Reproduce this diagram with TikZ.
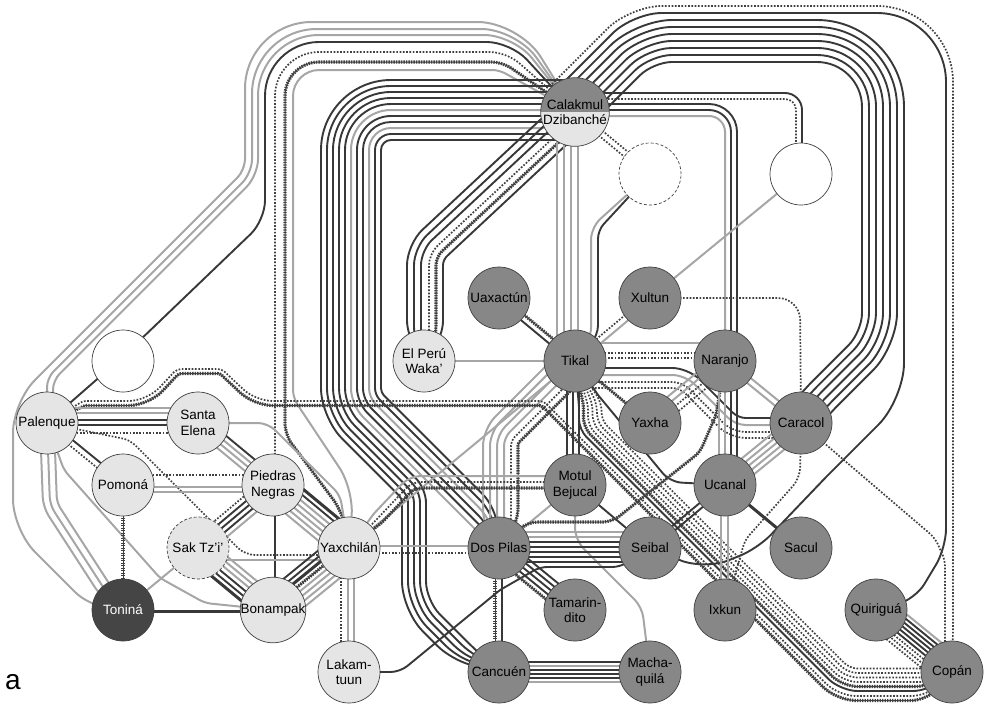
\documentclass[tikz,border=0pt]{standalone}
\usepackage{fontspec}
\setmainfont{Liberation Sans}
\makeatletter
\newif\ifbl@pa \newif\ifbl@pb
\def\blR{30}
\def\bl@offset#1{%
  \pgfmathtruncatemacro\bl@ip{#1-1}%
  \pgfmathtruncatemacro\bl@in{#1+1}%
  \edef\bl@cx{\csname bl@x#1\endcsname}%
  \edef\bl@cy{\csname bl@y#1\endcsname}%
  \ifnum#1>1\relax
    \edef\bl@ax{\csname bl@x\bl@ip\endcsname}%
    \edef\bl@ay{\csname bl@y\bl@ip\endcsname}%
    \pgfmathsetmacro\bl@la{100*veclen(((\bl@cx)-(\bl@ax))/100,((\bl@cy)-(\bl@ay))/100)}%
    \pgfmathsetmacro\bl@nax{-((\bl@cy)-(\bl@ay))/\bl@la}%
    \pgfmathsetmacro\bl@nay{((\bl@cx)-(\bl@ax))/\bl@la}%
  \fi
  \ifnum#1<\bl@n\relax
    \edef\bl@bx{\csname bl@x\bl@in\endcsname}%
    \edef\bl@by{\csname bl@y\bl@in\endcsname}%
    \pgfmathsetmacro\bl@lb{100*veclen(((\bl@bx)-(\bl@cx))/100,((\bl@by)-(\bl@cy))/100)}%
    \pgfmathsetmacro\bl@nbx{-((\bl@by)-(\bl@cy))/\bl@lb}%
    \pgfmathsetmacro\bl@nby{((\bl@bx)-(\bl@cx))/\bl@lb}%
  \fi
  \ifnum#1=1\relax \let\bl@nax\bl@nbx \let\bl@nay\bl@nby \fi
  \ifnum#1=\bl@n\relax \let\bl@nbx\bl@nax \let\bl@nby\bl@nay \fi
  \edef\bl@dd{\bl@d}%
  \ifnum#1=1\relax \ifbl@pa \def\bl@dd{0}\fi\fi
  \ifnum#1=\bl@n\relax \ifbl@pb \def\bl@dd{0}\fi\fi
  \pgfmathsetmacro\bl@den{1+(\bl@nax)*(\bl@nbx)+(\bl@nay)*(\bl@nby)}%
  \pgfmathsetmacro\bl@ox{\bl@cx+(\bl@dd)*((\bl@nax)+(\bl@nbx))/\bl@den}%
  \pgfmathsetmacro\bl@oy{\bl@cy+(\bl@dd)*((\bl@nay)+(\bl@nby))/\bl@den}%
  \expandafter\xdef\csname bl@ox#1\endcsname{\bl@ox}%
  \expandafter\xdef\csname bl@oy#1\endcsname{\bl@oy}%
}
\def\bl@corner#1{%
  \pgfmathtruncatemacro\bl@ip{#1-1}%
  \pgfmathtruncatemacro\bl@in{#1+1}%
  \edef\bl@ax{\csname bl@ox\bl@ip\endcsname}\edef\bl@ay{\csname bl@oy\bl@ip\endcsname}%
  \edef\bl@cx{\csname bl@ox#1\endcsname}\edef\bl@cy{\csname bl@oy#1\endcsname}%
  \edef\bl@bx{\csname bl@ox\bl@in\endcsname}\edef\bl@by{\csname bl@oy\bl@in\endcsname}%
  \pgfmathsetmacro\bl@la{100*veclen(((\bl@cx)-(\bl@ax))/100,((\bl@cy)-(\bl@ay))/100)}%
  \pgfmathsetmacro\bl@lb{100*veclen(((\bl@bx)-(\bl@cx))/100,((\bl@by)-(\bl@cy))/100)}%
  \pgfmathsetmacro\bl@ux{((\bl@cx)-(\bl@ax))/\bl@la}%
  \pgfmathsetmacro\bl@uy{((\bl@cy)-(\bl@ay))/\bl@la}%
  \pgfmathsetmacro\bl@vx{((\bl@bx)-(\bl@cx))/\bl@lb}%
  \pgfmathsetmacro\bl@vy{((\bl@by)-(\bl@cy))/\bl@lb}%
  \pgfmathsetmacro\bl@cs{(\bl@ux)*(\bl@vx)+(\bl@uy)*(\bl@vy)}%
  \pgfmathsetmacro\bl@cr{(\bl@ux)*(\bl@vy)-(\bl@uy)*(\bl@vx)}%
  \pgfmathsetmacro\bl@r{max(2,\blR-(2*((\bl@cr)>0)-1)*(\bl@d))}%
  \pgfmathsetmacro\bl@t{sqrt(max(0,1-(\bl@cs))/(1+(\bl@cs)))}%
  \pgfmathsetmacro\bl@L{min(\bl@r*\bl@t,0.45*min(\bl@la,\bl@lb))}%
  \pgfmathsetmacro\bl@Ax{(\bl@cx)-\bl@L*(\bl@ux)}%
  \pgfmathsetmacro\bl@Ay{(\bl@cy)-\bl@L*(\bl@uy)}%
  \pgfmathsetmacro\bl@Ex{(\bl@cx)+\bl@L*(\bl@vx)}%
  \pgfmathsetmacro\bl@Ey{(\bl@cy)+\bl@L*(\bl@vy)}%
  \pgfmathsetmacro\bl@Px{(\bl@Ax)+0.55*\bl@L*(\bl@ux)}%
  \pgfmathsetmacro\bl@Py{(\bl@Ay)+0.55*\bl@L*(\bl@uy)}%
  \pgfmathsetmacro\bl@Qx{(\bl@Ex)-0.55*\bl@L*(\bl@vx)}%
  \pgfmathsetmacro\bl@Qy{(\bl@Ey)-0.55*\bl@L*(\bl@vy)}%
  \xdef\bl@path{\bl@path -- (\bl@Ax,\bl@Ay) .. controls (\bl@Px,\bl@Py) and (\bl@Qx,\bl@Qy) .. (\bl@Ex,\bl@Ey)}%
}
\newcommand\bl[3]{%
  \def\bl@d{#2}%
  \gdef\bl@n{0}%
  \foreach \px/\py [count=\ii] in {#3}{%
    \expandafter\xdef\csname bl@x\ii\endcsname{\px}%
    \expandafter\xdef\csname bl@y\ii\endcsname{\py}%
    \xdef\bl@n{\ii}}%
  \foreach \ii in {1,...,\bl@n}{\bl@offset{\ii}}%
  \xdef\bl@path{(\csname bl@ox1\endcsname,\csname bl@oy1\endcsname)}%
  \foreach \ii in {2,...,\bl@n}{%
    \ifnum\ii=\bl@n\relax
      \xdef\bl@path{\bl@path -- (\csname bl@ox\ii\endcsname,\csname bl@oy\ii\endcsname)}%
    \else
      \bl@corner{\ii}%
    \fi}%
  \edef\bl@cmd{\noexpand\draw[#1] \bl@path;}\bl@cmd
}
\newcommand\bund[5]{%
  \def\blR{#1}%
  \ifnum#2=1 \bl@patrue\else\bl@pafalse\fi
  \ifnum#3=1 \bl@pbtrue\else\bl@pbfalse\fi
  \foreach \bs/\bo in {#5}{%
    \edef\bl@tmp{\noexpand\bl{\bs}{\bo}{#4}}\bl@tmp}%
}
\makeatother
\newcommand\nfont{\fontsize{13.5}{15.5}\selectfont}
\tikzset{
  sD/.style={draw=black!78, line width=1.9pt},
  sDD/.style={draw=black!78, line width=3pt},
  sL/.style={draw=black!35, line width=2pt},
  sT/.style={draw=black!75, line width=1.7pt, dash pattern=on 1.7pt off 1.6pt},
  sH/.style={draw=black!75, line width=3.2pt, dash pattern=on 1.4pt off 1.1pt,
             postaction={draw=black!75, line width=1pt, solid}},
  nbase/.style={circle, minimum size=62pt, inner sep=0pt, draw=black!75,
             line width=0.7pt, align=center, font=\nfont},
  nD/.style={nbase, fill=black!47},
  nL/.style={nbase, fill=black!10},
  nW/.style={nbase, fill=white},
  nT/.style={nbase, fill=black!73, text=white},
}
\begin{document}
\begin{tikzpicture}[x=1pt,y=-1pt]
\useasboundingbox (0,0) rectangle (984,704);
% ---------- A : top-left loop from Calakmul
\bund{50}{1}{1}{575/112,509/46,269/46,269/180,37/412,37/520,105/588,123/610}{sL/24}
\bund{50}{1}{1}{575/112,509/46,269/46,269/180,64/385,64/405,47/423}{sL/17,sL/11}
\bund{50}{1}{1}{575/112,509/46,269/46,269/222,124/361,47/423}{sD/4}
\bund{50}{1}{1}{575/112,509/46,269/46,269/465,273/485}{sT/-6}
\bund{50}{1}{1}{575/112,509/46,269/46,269/440,330/522,349/548}{sH/-16}
\bund{50}{1}{1}{575/112,509/46,269/46,269/405,332/500,349/548}{sL/-24}
% ---------- B : Calakmul - Dos Pilas / Cancuen
\bund{40}{0}{1}{575/110,351/110,351/405,432/486,432/598,474/640,499/672}{sD/30,sD/24,sD/18,sD/12,sD/6}
\bund{40}{0}{1}{575/110,351/110,351/405,476/530,499/548}{sL/0,sD/-6,sD/-12,sL/-18,sD/-24,sD/-30}
% ---------- E : Calakmul - Naranjo, Calakmul - white circle
\bund{22}{0}{1}{575/110,731/110,731/335,725/361}{sD/-6,sD/0,sL/6}
\bund{14}{0}{1}{575/96,799/96,799/152,801/174}{sD/-3,sT/3}
% ---------- C : Calakmul - El Peru
\bund{30}{0}{1}{575/112,425/252,425/335,424/361}{sD/18,sD/11,sD/4,sT/-4,sH/-11,sD/-18}
% ---------- D : Calakmul - Tikal, dashed circle
\bund{0}{0}{0}{567/112,567/361}{sL/10.5,sL/3.5,sL/-3.5,sL/-10.5}
\bund{24}{1}{1}{650/174,595/229,595/335,575/361}{sL/4,sD/-3}
\bund{0}{0}{0}{575/112,650/174}{sT/3,sT/-3}
% ---------- F : Calakmul - top-right loop
\bund{65}{0}{0}{575/112,645/42,882/42,882/340,825/397,801/423}{sD/20,sD/13,sD/6,sD/-1,sD/-8,sD/-15}
\bund{65}{0}{1}{575/112,645/42,882/42,882/390,810/462,745/530,700/548,650/548}{sD/-22}
\bund{40}{0}{1}{575/112,645/42,917/42,917/540,890/585,876/610}{sD/-29}
\bund{40}{0}{1}{575/112,645/42,917/42,917/650,952/672}{sT/-36}
% ---------- Tikal area
\bund{0}{0}{0}{499/298,575/361}{sH/-3,sD/3}
\bund{0}{0}{0}{650/298,575/361}{sT/3,sL/-3}
\bund{0}{0}{0}{424/361,575/361}{sL/0}
\bund{0}{0}{0}{650/298,801/174}{sL/0}
\bund{22}{0}{0}{650/298,800/298,801/423}{sT/0}
\bund{0}{0}{0}{575/361,725/361}{sL/-18,sT/-8,sT/-3}
\bund{28}{0}{0}{575/378,684/378,734/428,801/428}{sD/-10,sL/-3,sT/4,sT/10}
\bund{0}{0}{0}{725/361,801/423}{sL/-3,sL/3}
\bund{0}{0}{0}{650/423,725/361}{sL/-9,sL/-3,sT/3,sT/9}
\bund{0}{0}{0}{575/361,650/423}{sH/0}
\bund{0}{0}{0}{573/361,573/485}{sD/6,sD/0,sD/-6}
\bund{24}{0}{1}{575/361,500/436,500/522,499/548}{sL/17,sL/10,sL/3,sL/-4,sT/-11,sH/-18}
\bund{0}{0}{0}{575/361,349/548}{sL/0}
\bund{26}{1}{1}{575/361,598/395,670/482,725/485}{sD/0}
\bund{30}{1}{1}{575/361,590/405,590/425,845/680,925/680,952/672}{sD/11,sH/6.5,sT/2,sT/-2.5,sT/-7,sT/-11.5}
\bund{26}{1}{1}{47/423,75/385,140/385,170/353,228/353,262/385,550/385,845/680,925/680,952/672}{sT/16,sH/20.5}
% ---------- Motul area
\bund{20}{1}{1}{349/548,378/518,412/482,548/482,575/485}{sL/-6,sT/0,sH/6}
\bund{0}{0}{0}{575/485,499/548}{sL/0}
\bund{0}{0}{0}{575/485,650/548}{sD/0}
\bund{30}{1}{1}{575/485,575/540,642/607,650/672}{sL/0}
\bund{26}{1}{1}{499/548,527/522,612/522,700/452,716/415,725/361}{sH/0}
% ---------- western cluster
\bund{0}{0}{0}{47/423,198/423}{sL/-15,sL/-10,sD/-3,sD/2,sT/10}
\bund{0}{0}{0}{47/423,123/485}{sD/-3,sT/3}
\bund{24}{1}{1}{47/423,130/440,245/555,320/555,349/548}{sT/0}
\bund{30}{0}{1}{47/423,50/505,105/590,123/610}{sL/7,sL/0,sL/-7}
\bund{30}{1}{1}{47/423,64/470,160/578,205/603,273/610}{sL/0}
\bund{0}{0}{0}{123/485,273/485}{sT/-10,sL/2,sL/7}
\bund{0}{0}{0}{123/485,123/610}{sH/0}
\bund{0}{0}{0}{123/610,273/610}{sDD/1}
\bund{0}{0}{0}{198/423,273/485}{sD/-8,sL/-3,sL/2,sL/7}
\bund{24}{1}{1}{198/423,268/423,340/495,349/548}{sL/0}
\bund{0}{0}{0}{273/485,349/548}{sDD/-16,sD/-11,sL/-6,sL/-1,sL/4,sL/9,sL/14}
\bund{0}{0}{0}{273/485,198/548}{sL/-10,sD/-5,sD/0,sD/5,sT/10}
\bund{0}{0}{0}{275/485,275/610}{sD/0}
\bund{0}{0}{0}{198/548,273/610}{sL/-12,sL/-7,sL/-2,sD/3,sD/8,sDD/13}
\bund{0}{0}{0}{198/548,349/548}{sL/12}
\bund{0}{0}{0}{198/548,123/610}{sL/0}
\bund{0}{0}{0}{273/610,349/548}{sD/-17.5,sD/-12.5,sDD/-7.5,sH/-2.5,sL/2.5,sL/7.5,sL/12.5,sL/17.5}
\bund{0}{0}{0}{349/548,349/672}{sT/8,sL/1,sL/-5}
\bund{0}{0}{0}{349/548,499/548}{sL/-2,sT/5}
\bund{26}{1}{1}{349/672,400/672,500/590,540/567,620/567,650/548}{sD/0}
\bund{0}{0}{0}{499/548,650/548}{sL/-16,sL/-11,sD/-6,sD/-1,sD/4,sD/9,sD/14}
\bund{0}{0}{0}{499/548,575/610}{sD/-10,sD/-5,sD/0,sD/5,sH/10}
\bund{0}{0}{0}{499/548,499/672}{sH/4,sD/-3}
\bund{0}{0}{0}{499/672,650/672}{sD/-10,sL/-6,sD/-2,sD/2,sD/6,sL/10}
% ---------- eastern cluster
\bund{0}{0}{0}{725/361,725/485}{sL/6,sL/0,sD/-6,sD/-12}
\bund{0}{0}{0}{725/485,725/610}{sL/4,sL/-3}
\bund{0}{0}{0}{725/485,801/548}{sDD/0}
\bund{0}{0}{0}{650/548,725/485}{sD/-2.5,sD/2.5}
\bund{0}{0}{0}{801/423,725/485}{sL/-10,sL/-5,sL/0,sL/5,sL/10}
\bund{28}{1}{1}{801/423,800/478,745/540,725/610}{sT/0}
\bund{30}{1}{1}{801/423,838/455,935/538,945/560,945/645,952/672}{sT/0}
\bund{0}{0}{0}{876/610,952/672}{sL/-16,sD/-12,sD/-8,sD/-4,sD/0,sD/4,sT/8,sT/12,sT/16}
% ---------- nodes
\node[nL, path picture={\fill[black!47] (path picture bounding box.north west) rectangle (path picture bounding box.east);}] (cal) at (575,112) {Calakmul\\Dzibanché};
\node[nW, dash pattern=on 3pt off 2pt] (dw) at (650,174) {};
\node[nW] (w1) at (801,174) {};
\node[nD] (uax) at (499,298) {Uaxactún};
\node[nD] (xul) at (650,298) {Xultun};
\node[nL] (per) at (424,361) {El Perú\\Waka’};
\node[nD] (tik) at (575,361) {Tikal};
\node[nD] (nar) at (725,361) {Naranjo};
\node[nW] (w2) at (123,361) {};
\node[nL] (pal) at (47,423) {Palenque};
\node[nL] (se) at (198,423) {Santa\\Elena};
\node[nD] (yah) at (650,423) {Yaxha};
\node[nD] (car) at (801,423) {Caracol};
\node[nL] (pom) at (123,485) {Pomoná};
\node[nL] (pn) at (273,485) {Piedras\\Negras};
\node[nD] (mot) at (575,485) {Motul\\Bejucal};
\node[nD] (uca) at (725,485) {Ucanal};
\node[nL, dash pattern=on 3pt off 2pt] (sak) at (198,548) {Sak Tz’i’};
\node[nL] (yax) at (349,548) {Yaxchilán};
\node[nD] (dp) at (499,548) {Dos Pilas};
\node[nD] (sei) at (650,548) {Seibal};
\node[nD] (sac) at (801,548) {Sacul};
\node[nT] (ton) at (123,610) {Toniná};
\node[nL] (bon) at (273,610) {Bonampak};
\node[nD] (tam) at (575,610) {Tamarin-\\dito};
\node[nD] (ixk) at (725,610) {Ixkun};
\node[nD] (qui) at (876,610) {Quiriguá};
\node[nL] (lak) at (349,672) {Lakam-\\tuun};
\node[nD] (can) at (499,672) {Cancuén};
\node[nD] (mac) at (650,672) {Macha-\\quilá};
\node[nD] (cop) at (952,672) {Copán};
\node[font=\fontsize{28}{30}\selectfont] (lab) at (13,682) {a};
\end{tikzpicture}
\end{document}
